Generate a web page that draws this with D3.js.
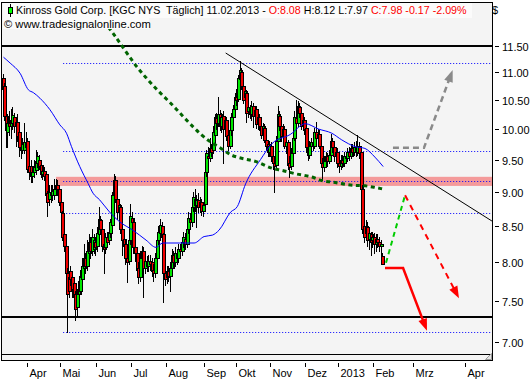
<!DOCTYPE html>
<html><head><meta charset="utf-8">
<script src="https://cdn.jsdelivr.net/npm/d3@7"></script>
<style>body{margin:0;background:#fff}svg{display:block}text{font-family:"Liberation Sans",Arial,sans-serif}</style>
</head><body><svg id="c" width="530" height="380"></svg>
<script>
// ---- data: daily OHLC, bar index 0 = 13 Mar 2012 ... 229 = 11 Feb 2013
const opens=[10.90,10.75,10.22,9.95,10.10,10.05,10.10,10.20,10.05,10.12,9.95,9.70,9.66,9.65,9.78,9.80,9.40,9.40,9.25,9.30,
9.33,9.45,9.50,9.42,9.28,9.32,9.28,8.98,8.90,9.00,8.95,8.95,9.05,9.10,9.05,8.85,8.68,8.38,8.22,7.85,
7.80,7.88,7.80,7.72,7.58,7.42,7.58,7.62,7.78,7.92,8.05,7.95,8.12,8.28,8.15,8.18,8.28,8.22,8.38,8.58,
8.45,8.25,8.20,8.35,8.30,8.40,8.52,8.95,9.18,8.90,8.70,8.78,8.45,8.32,8.25,8.05,8.02,8.30,8.62,8.55,
8.20,8.12,7.92,7.80,8.05,8.15,7.92,8.00,7.95,8.02,8.00,7.90,7.85,8.05,8.30,8.40,8.50,8.38,7.85,7.80,
7.88,7.82,7.92,8.10,8.00,8.12,8.05,8.18,8.15,8.28,8.32,8.25,8.45,8.60,8.55,8.78,8.90,8.80,8.88,8.78,
8.85,8.72,8.82,9.30,9.55,9.52,9.68,9.65,9.90,10.18,10.10,10.25,10.05,10.22,10.00,10.15,9.90,9.72,9.98,10.20,
10.35,10.55,10.52,10.88,11.00,10.75,10.55,10.62,10.30,10.38,10.25,10.40,10.22,10.35,10.08,10.20,10.05,9.92,10.02,9.82,
9.75,9.62,9.72,9.55,9.45,9.42,9.80,10.22,10.05,9.88,10.00,9.72,9.78,9.45,9.40,9.60,9.85,10.18,10.10,10.38,
10.28,10.05,10.15,10.02,9.70,9.58,9.72,9.78,9.72,9.95,9.85,9.92,9.72,9.45,9.38,9.48,9.55,9.48,9.58,9.80,
9.70,9.55,9.62,9.45,9.40,9.50,9.45,9.55,9.52,9.62,9.55,9.68,9.62,9.70,9.62,9.72,9.62,9.05,8.50,8.40,
8.48,8.32,8.38,8.30,8.35,8.25,8.32,8.28,8.22,8.08];
const highs=[10.96,10.80,10.30,10.25,10.30,10.35,10.38,10.28,10.20,10.25,10.05,9.80,9.85,10.10,9.95,9.85,9.45,9.50,9.40,9.50,
9.65,9.62,9.58,9.50,9.42,9.38,9.32,9.02,9.10,9.10,9.10,9.20,9.20,9.18,9.10,8.90,8.72,8.45,8.25,7.92,
7.88,7.95,7.85,7.78,7.62,7.65,7.82,7.90,8.05,8.25,8.12,8.30,8.38,8.35,8.45,8.38,8.35,8.48,8.78,8.65,
8.50,8.35,8.40,8.42,8.50,8.60,9.00,9.28,9.25,8.98,8.90,8.82,8.50,8.40,8.30,8.12,8.40,8.82,8.70,8.60,
8.28,8.18,8.00,8.15,8.22,8.20,8.10,8.08,8.10,8.10,8.05,7.98,8.12,8.38,8.50,8.60,8.55,8.40,7.92,7.95,
7.95,8.00,8.18,8.15,8.20,8.18,8.25,8.25,8.35,8.42,8.40,8.52,8.70,8.68,8.85,9.00,9.05,8.95,8.98,8.92,
8.90,8.85,9.35,9.65,9.70,9.85,9.75,10.05,10.25,10.28,10.55,10.32,10.28,10.30,10.22,10.20,9.98,10.05,10.28,10.42,
10.62,10.70,10.95,11.20,11.08,10.80,10.72,10.68,10.45,10.42,10.48,10.45,10.38,10.40,10.28,10.25,10.10,10.10,10.08,9.90,
9.82,9.80,9.78,9.62,9.55,9.88,10.40,10.30,10.12,10.08,10.05,9.85,9.82,9.55,9.68,9.90,10.30,10.50,10.48,10.45,
10.32,10.22,10.20,10.08,9.78,9.80,9.85,9.85,10.02,10.12,10.00,9.98,9.78,9.52,9.55,9.62,9.60,9.65,9.92,9.85,
9.78,9.70,9.68,9.52,9.58,9.58,9.62,9.62,9.68,9.70,9.75,9.75,9.78,9.80,9.90,9.78,9.65,9.10,8.75,8.58,
8.55,8.45,8.42,8.42,8.40,8.38,8.38,8.35,8.30,8.12];
const lows=[10.68,10.15,9.70,9.70,9.90,9.85,10.00,9.95,9.72,9.80,9.55,9.52,9.60,9.60,9.62,9.30,9.20,9.15,9.15,9.22,
9.28,9.38,9.35,9.22,9.20,9.18,8.90,8.65,8.80,8.85,8.88,8.90,8.98,8.95,8.80,8.62,8.30,8.15,7.80,7.12,
7.55,7.70,7.55,7.45,7.26,7.32,7.50,7.58,7.70,7.88,7.85,7.90,8.05,8.05,8.10,8.12,8.10,8.15,8.32,8.38,
8.15,7.85,8.12,8.20,8.25,8.35,8.45,8.90,8.85,8.60,8.55,8.40,8.10,8.12,7.98,7.74,7.98,8.25,8.45,8.12,
8.02,7.82,7.72,7.75,7.95,7.55,7.85,7.88,7.88,7.90,7.82,7.75,7.80,8.00,8.25,8.35,8.30,7.48,7.70,7.72,
7.75,7.62,7.85,7.92,7.95,7.98,8.00,8.08,8.10,8.20,8.18,8.20,8.40,8.48,8.50,8.72,8.72,8.48,8.70,8.70,
8.66,8.65,8.78,9.25,9.45,9.48,9.55,9.60,9.85,10.00,10.05,9.98,9.95,9.45,9.90,9.82,9.65,9.68,9.90,10.10,
10.30,10.42,10.48,10.80,10.70,10.45,10.45,10.12,10.20,10.18,10.15,10.04,10.15,10.02,10.00,9.98,9.85,9.85,9.78,9.65,
9.55,9.55,9.48,9.35,9.00,9.38,9.75,9.98,9.80,9.78,9.68,9.60,9.35,9.22,9.35,9.55,9.82,10.05,10.05,10.20,
10.00,9.98,9.92,9.62,9.50,9.52,9.65,9.65,9.68,9.80,9.78,9.68,9.40,9.18,9.32,9.42,9.40,9.45,9.55,9.62,
9.48,9.48,9.38,9.31,9.35,9.38,9.40,9.45,9.48,9.50,9.52,9.55,9.58,9.55,9.58,9.52,9.00,8.40,8.28,8.32,
8.22,8.18,8.10,8.20,8.12,8.15,8.20,8.15,8.10,7.97];
const closes=[10.70,10.22,9.98,10.10,10.05,10.15,10.24,10.05,10.12,9.88,9.70,9.66,9.75,9.78,9.70,9.35,9.30,9.25,9.30,9.38,
9.48,9.55,9.40,9.28,9.32,9.25,8.95,8.85,9.00,8.95,9.02,9.05,9.10,9.05,8.85,8.70,8.35,8.22,7.85,7.58,
7.62,7.78,7.65,7.55,7.40,7.58,7.75,7.80,7.95,8.05,7.95,8.15,8.28,8.15,8.35,8.30,8.20,8.40,8.60,8.45,
8.22,8.18,8.35,8.28,8.42,8.55,8.95,9.18,8.90,8.70,8.80,8.45,8.30,8.22,8.05,8.00,8.30,8.65,8.55,8.20,
8.12,7.90,7.80,8.05,8.15,7.92,8.02,7.95,8.02,7.98,7.88,7.85,8.05,8.30,8.42,8.52,8.35,7.85,7.78,7.88,
7.82,7.92,8.10,8.00,8.12,8.05,8.18,8.15,8.28,8.35,8.25,8.45,8.62,8.55,8.78,8.92,8.80,8.88,8.78,8.85,
8.72,8.80,9.30,9.60,9.52,9.68,9.62,9.95,10.20,10.10,10.25,10.05,10.20,10.00,10.15,9.88,9.72,9.98,10.20,10.35,
10.55,10.50,10.90,11.05,10.75,10.50,10.65,10.28,10.38,10.25,10.40,10.22,10.32,10.08,10.20,10.05,9.90,10.05,9.82,9.72,
9.62,9.72,9.55,9.45,9.40,9.80,10.25,10.05,9.88,10.00,9.72,9.78,9.42,9.38,9.60,9.85,10.20,10.10,10.40,10.28,
10.05,10.15,10.00,9.70,9.58,9.72,9.78,9.72,9.95,9.85,9.92,9.72,9.45,9.38,9.48,9.55,9.48,9.58,9.80,9.70,
9.55,9.62,9.45,9.40,9.50,9.45,9.55,9.52,9.62,9.55,9.68,9.62,9.70,9.62,9.72,9.60,9.05,8.45,8.35,8.50,
8.30,8.40,8.28,8.35,8.25,8.32,8.28,8.22,8.25,7.98];

// moving average: bar index, value
const maIdx=[0,4,10,15,18,22,28,34,38,41,46,51,54,58,64,70,78,86,92,96,106,115,121,126,130,137,141,146,155,162,173,182,190,198,204,212,218,224,229];
const maVal=[11.28,11.17,10.98,10.68,10.63,10.53,10.33,10.07,9.93,9.71,9.39,9.13,8.98,8.88,8.70,8.56,8.44,8.30,8.20,8.26,8.26,8.26,8.35,8.37,8.44,8.70,8.78,9.12,9.50,9.76,9.91,10.09,10.00,9.93,9.82,9.71,9.68,9.54,9.39];

// dark green dashed trend curve
const gcIdx=[49.8,58.2,65.4,69.7,78.9,85.9,93.2,100.7,108.1,115.2,119.5,123.5,127.6,132.6,136.9,141.6,146.9,152,157.1,161.8,166.8,171.8,176.8,182.3,187.3,192.5,197.5,202.5,208,213,218,223.5,228.5];
const gcVal=[12.48,12.09,11.77,11.58,11.15,10.90,10.66,10.45,10.22,10.01,9.90,9.81,9.74,9.66,9.57,9.535,9.50,9.48,9.415,9.36,9.34,9.305,9.27,9.25,9.22,9.16,9.155,9.13,9.105,9.095,9.095,9.07,9.045];

// horizontal levels
const dottedLevels=[11.18,9.64,9.16,8.68,7.12];
const levelStartIdx=36;
const thickLevels=[11.50,7.30];
const bandLow=9.09, bandHigh=9.23, bandStartIdx=31.7;
// descending resistance line
const trendIdx=[134,294.6], trendVal=[11.36,8.57];
// scenario projections
const grayIdx=[234.9,253.6,270.9], grayVal=[9.69,9.69,11.04];
const greenPIdx=[230.7,242.2], greenPVal=[7.99,8.95];
const redDIdx=[242.2,274.7], redDVal=[8.95,7.53];
const redSIdx=[230.1,241,255.4], redSVal=[7.92,7.92,7.13];

// axes
const yTicks=[7.00,7.50,8.00,8.50,9.00,9.50,10.00,10.50,11.00,11.50];
const monthLabels=["Apr","Mai","Jun","Jul","Aug","Sep","Okt","Nov","Dez","2013","Feb","Mrz","Apr"];
const monthIdx=[14,34,56,77,98,121,140,161,182,202,223,247.2,278.5];

// ---- drawing
const svg=d3.select("#c");
const xL=1.5,xR=492.5,yT=2.5,yB=360.5,yS=354.5;
const x=d3.scaleLinear().domain([0,229]).range([3.5,3.5+229*1.658]);
const y=d3.scaleLog().domain([7,11.5]).range([341.7,45.7]);
const px=v=>Math.round(v)+0.5;

svg.append("rect").attr("x",xL).attr("y",yT).attr("width",xR-xL).attr("height",yB-yT)
  .attr("fill","#f4f4f4").attr("stroke","#000");
svg.append("defs").append("clipPath").attr("id","pc").append("rect")
  .attr("x",xL+0.5).attr("y",yT+0.5).attr("width",xR-xL-1).attr("height",yS-yT-1);
const plot=svg.append("g").attr("clip-path","url(#pc)");

// band
plot.append("rect").attr("x",x(bandStartIdx)).attr("y",y(bandHigh))
  .attr("width",xR-x(bandStartIdx)).attr("height",y(bandLow)-y(bandHigh)).attr("fill","#f49a9a");
// dotted levels
dottedLevels.forEach(v=>{
  plot.append("line").attr("x1",x(levelStartIdx)).attr("x2",xR).attr("y1",px(y(v))).attr("y2",px(y(v)))
   .attr("stroke","#0000ff").attr("stroke-dasharray","1,2");
});
thickLevels.forEach(v=>{
  plot.append("line").attr("x1",xL).attr("x2",xR).attr("y1",Math.round(y(v))).attr("y2",Math.round(y(v)))
   .attr("stroke","#000").attr("stroke-width",2);
});

// candles
const cg=plot.append("g");
closes.forEach((c,i)=>{
  const o=opens[i],h=highs[i],l=lows[i];
  const k=Math.round(x(i));
  cg.append("line").attr("x1",k-0.5).attr("x2",k-0.5).attr("y1",Math.round(y(h))).attr("y2",Math.round(y(l))+1)
    .attr("stroke","#000");
  const t=Math.round(y(Math.max(o,c)))+0.5, b=Math.round(y(Math.min(o,c)))+0.5;
  cg.append("rect").attr("x",k-1.5).attr("y",t).attr("width",3).attr("height",Math.max(b-t,1))
    .attr("fill",c>=o?"#00e600":"#f00000").attr("stroke","#000");
});

// moving average
plot.append("path").datum(maIdx.map((d,i)=>[d,maVal[i]]))
  .attr("d",d3.line().x(d=>x(d[0])).y(d=>y(d[1])).curve(d3.curveMonotoneX))
  .attr("fill","none").attr("stroke","#0000ff");
// green curve
plot.append("path").datum(gcIdx.map((d,i)=>[d,gcVal[i]]))
  .attr("d",d3.line().x(d=>x(d[0])).y(d=>y(d[1])).curve(d3.curveBasis))
  .attr("fill","none").attr("stroke","#006400").attr("stroke-width",3).attr("stroke-dasharray","4,3.5");
// trend line
plot.append("line").attr("x1",x(trendIdx[0])).attr("y1",y(trendVal[0])).attr("x2",x(trendIdx[1])).attr("y2",y(trendVal[1]))
  .attr("stroke","#000").attr("stroke-width",1);

function arrowPath(idx,val,color,width,dash,head){
  const pts=idx.map((d,i)=>[x(d),y(val[i])]);
  if(head){
    const a=pts[pts.length-2], b=pts[pts.length-1];
    const dx=b[0]-a[0], dy=b[1]-a[1], L=Math.hypot(dx,dy), ux=dx/L, uy=dy/L;
    const hl=12, hw=4.5;
    const base=[b[0]-ux*hl,b[1]-uy*hl];
    pts[pts.length-1]=[b[0]-ux*(hl-2),b[1]-uy*(hl-2)];
    plot.append("path").attr("d",d3.line()(pts)).attr("fill","none").attr("stroke",color)
      .attr("stroke-width",width).attr("stroke-dasharray",dash);
    plot.append("polygon").attr("points",[b,[base[0]-uy*hw,base[1]+ux*hw],[base[0]+uy*hw,base[1]-ux*hw]].map(p=>p.join(",")).join(" "))
      .attr("fill",color);
  } else {
    plot.append("path").attr("d",d3.line()(pts)).attr("fill","none").attr("stroke",color)
      .attr("stroke-width",width).attr("stroke-dasharray",dash);
  }
}
arrowPath(grayIdx,grayVal,"#8a8a8a",2.5,"6,4",true);
arrowPath(greenPIdx,greenPVal,"#00cc00",2,"5,4",false);
arrowPath(redDIdx,redDVal,"#ff0000",2,"6,5",true);
arrowPath(redSIdx,redSVal,"#ff0000",2.5,null,true);

// scroll strip + grip
svg.append("line").attr("x1",xL).attr("x2",xR).attr("y1",yS).attr("y2",yS).attr("stroke","#000");
svg.append("polygon").attr("points","485.5,359.5 491.5,353.5 491.5,359.5").attr("fill","#e4e4e4").attr("stroke","#999");

// header
svg.append("rect").attr("x",3).attr("y",3).attr("width",469).attr("height",15).attr("fill","#fbfbfb");
svg.append("rect").attr("x",3).attr("y",18).attr("width",146).attr("height",11).attr("fill","#fbfbfb");
svg.append("line").attr("x1",10.5).attr("x2",10.5).attr("y1",4).attr("y2",17).attr("stroke","#000");
svg.append("rect").attr("x",8.5).attr("y",7.5).attr("width",4).attr("height",6).attr("fill","#00ff00").attr("stroke","#000");
const ht=svg.append("text").attr("x",16).attr("y",14).attr("font-size","10.7px");
[["Kinross Gold Corp. [KGC NYS  Täglich] 11.02.2013 - ","#000"],["O:8.08 ","#f00"],["H:8.12 L:7.97 ","#000"],["C:7.98 -0.17 -2.09%","#f00"]]
  .forEach(s=>ht.append("tspan").attr("fill",s[1]).attr("xml:space","preserve").text(s[0]));
svg.append("text").attr("x",4).attr("y",28).attr("font-size","11.2px").text("© www.tradesignalonline.com");

// right axis
svg.append("text").attr("x",492).attr("y",14).attr("font-size","11px").text("$");
yTicks.forEach(v=>{
  const yy=Math.round(y(v))+0.5;
  svg.append("line").attr("x1",495).attr("x2",499).attr("y1",yy).attr("y2",yy).attr("stroke","#000");
  svg.append("text").attr("x",502).attr("y",yy+4).attr("font-size","11px").text(d3.format(".2f")(v));
});
// bottom axis
monthLabels.forEach((m,i)=>{
  const xx=Math.round(x(monthIdx[i]))+0.5;
  svg.append("line").attr("x1",xx).attr("x2",xx).attr("y1",363).attr("y2",367).attr("stroke","#000");
  svg.append("text").attr("x",xx+2).attr("y",377).attr("font-size","11px").text(m);
});
</script></body></html>
